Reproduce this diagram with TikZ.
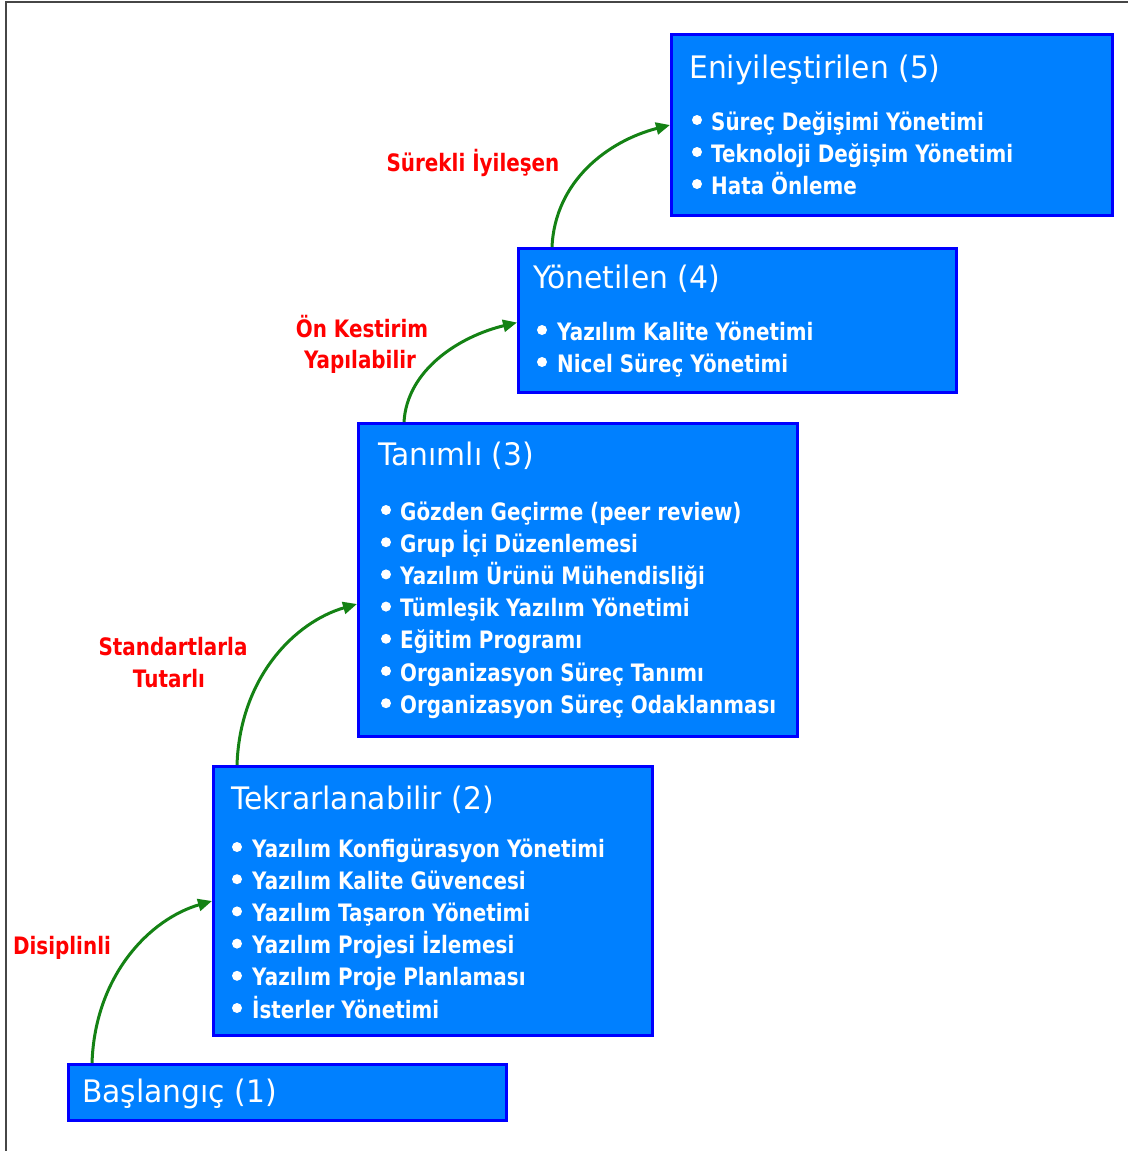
\documentclass[tikz,border=0pt]{standalone}
\usepackage{fontspec}
\usetikzlibrary{arrows.meta,calc}
\newfontfamily\ttlfont[FakeStretch=0.96]{DejaVu Sans}
\newfontfamily\itmfont[FakeStretch=0.83]{DejaVu Sans Bold}
\definecolor{boxfill}{RGB}{0,128,255}
\definecolor{boxline}{RGB}{0,0,255}
\definecolor{arrowgreen}{RGB}{20,130,20}
\definecolor{framegray}{RGB}{70,70,70}
\begin{document}
\begin{tikzpicture}[x=1pt,y=-1pt,
  level/.style={draw=boxline,fill=boxfill,line width=3pt,rectangle,inner sep=0pt},
  ttl/.style={anchor=base west,inner sep=0pt,text=white,font=\ttlfont\fontsize{31}{31}\selectfont},
  itm/.style={anchor=base west,inner sep=0pt,text=white,font=\itmfont\fontsize{24}{24}\selectfont},
  lbl/.style={anchor=base,inner sep=0pt,text=red,font=\itmfont\fontsize{24}{24}\selectfont},
  stepup/.style={draw=arrowgreen,line width=3pt,-{Triangle[length=14pt,width=12pt]}},
  frame/.style={draw=framegray,line width=2.5pt}]
\useasboundingbox (0,0) rectangle (1128,1151);
% outer frame (top and left edges)
\draw[frame] (6,1151) -- (6,2) -- (1128,2);

% maturity level boxes
\node[level,minimum width=438pt,minimum height=56pt]  (b1) at (287.5,1092.5) {};
\node[level,minimum width=439pt,minimum height=269pt] (b2) at (433,901) {};
\node[level,minimum width=439pt,minimum height=313pt] (b3) at (578,580) {};
\node[level,minimum width=438pt,minimum height=144pt] (b4) at (737.5,320.5) {};
\node[level,minimum width=441pt,minimum height=181pt] (b5) at (892,125) {};

% titles
\node[ttl] (t1) at (82,1102) {Başlangıç (1)};
\node[ttl] (t2) at (231,809) {Tekrarlanabilir (2)};
\node[ttl] (t3) at (378,465) {Tanımlı (3)};
\node[ttl] (t4) at (533,288) {Yönetilen (4)};
\node[ttl] (t5) at (689,78) {Eniyileştirilen (5)};

% key process areas
\foreach \t [count=\i from 0] in {Yazılım Konfigürasyon Yönetimi,Yazılım Kalite Güvencesi,Yazılım Taşaron Yönetimi,Yazılım Projesi İzlemesi,Yazılım Proje Planlaması,İsterler Yönetimi}{
  \node[itm] (p2\i) at (252,857+32.2*\i) {\t};
  \fill[white] ($(p2\i.base west)+(-15,-10)$) circle (5pt);
}
\foreach \t [count=\i from 0] in {Gözden Geçirme (peer review),Grup İçi Düzenlemesi,Yazılım Ürünü Mühendisliği,Tümleşik Yazılım Yönetimi,Eğitim Programı,Organizasyon Süreç Tanımı,Organizasyon Süreç Odaklanması}{
  \node[itm] (p3\i) at (400,520+32.2*\i) {\t};
  \fill[white] ($(p3\i.base west)+(-14,-10)$) circle (5pt);
}
\foreach \t [count=\i from 0] in {Yazılım Kalite Yönetimi,Nicel Süreç Yönetimi}{
  \node[itm] (p4\i) at (557,340+32*\i) {\t};
  \fill[white] ($(p4\i.base west)+(-15,-10)$) circle (5pt);
}
\foreach \t [count=\i from 0] in {Süreç Değişimi Yönetimi,Teknoloji Değişim Yönetimi,Hata Önleme}{
  \node[itm] (p5\i) at (711,130+32*\i) {\t};
  \fill[white] ($(p5\i.base west)+(-14,-10)$) circle (5pt);
}

% transitions between levels
\coordinate (s1) at ($(b1.north west)+(25,0)$);
\coordinate (e1) at (b2.west);
\draw[stepup] (s1) .. controls ($(s1)+(3,-88)$) and ($(e1)+(-62,18)$) .. (e1);
\coordinate (s2) at ($(b2.north west)+(25,0)$);
\coordinate (e2) at ($(b3.north west)+(0,182)$);
\draw[stepup] (s2) .. controls ($(s2)+(3,-88)$) and ($(e2)+(-62,18)$) .. (e2);
\coordinate (s3) at ($(b3.north west)+(47,0)$);
\coordinate (e3) at ($(b4.west)+(0,2)$);
\draw[stepup] (s3) .. controls ($(s3)+(3,-52)$) and ($(e3)+(-58,14)$) .. (e3);
\coordinate (s4) at ($(b4.north west)+(35,0)$);
\coordinate (e4) at (b5.west);
\draw[stepup] (s4) .. controls ($(s4)+(3,-66)$) and ($(e4)+(-62,16)$) .. (e4);

% transition labels
\node[lbl] (l1) at (62,954) {Disiplinli};
\node[lbl] (l2a) at (173,655) {Standartlarla};
\node[lbl] (l2b) at (169,687) {Tutarlı};
\node[lbl] (l3a) at (362,337) {Ön Kestirim};
\node[lbl] (l3b) at (360,368) {Yapılabilir};
\node[lbl] (l4) at (473,171) {Sürekli İyileşen};
\end{tikzpicture}
\end{document}
